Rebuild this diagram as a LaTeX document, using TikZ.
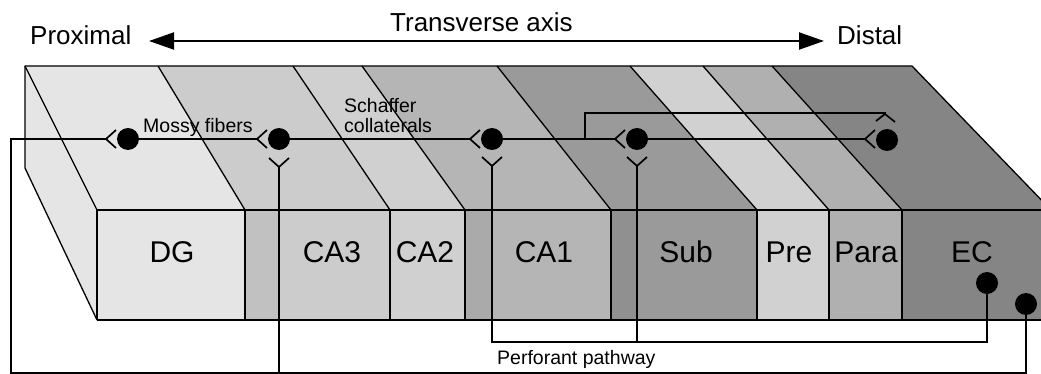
\documentclass[tikz,border=0pt]{standalone}
\usepackage{fontspec}
\setmainfont{Liberation Sans}
\usetikzlibrary{arrows.meta}
% band shades (top face / front face)
\definecolor{shDG}{gray}{0.90}
\definecolor{shCAiii}{gray}{0.80}
\definecolor{shCAiiiS}{gray}{0.755}
\definecolor{shCAii}{gray}{0.815}
\definecolor{shCAi}{gray}{0.71}
\definecolor{shCAiS}{gray}{0.665}
\definecolor{shSub}{gray}{0.605}
\definecolor{shSubS}{gray}{0.565}
\definecolor{shPre}{gray}{0.82}
\definecolor{shPara}{gray}{0.69}
\definecolor{shEC}{gray}{0.52}
\begin{document}
\begin{tikzpicture}[x=1pt,y=-1pt,
  slab/.style={line width=1.3pt, line join=round},
  wire/.style={line width=2pt, line join=miter},
  arm/.style={line width=1.7pt},
  soma/.style={circle, fill=black, inner sep=0pt, minimum size=22pt},
  region/.style={font=\fontsize{30}{30}\selectfont, anchor=base, inner sep=0pt},
  small/.style={font=\fontsize{19.5}{20}\selectfont, anchor=base west, inner sep=0pt},
  axislbl/.style={font=\fontsize{26}{26}\selectfont, anchor=base west, inner sep=0pt}]
\useasboundingbox (0,0) rectangle (1041,374);
\clip (0,0) rectangle (1041,374);

% ---- top face: skewed bands ----
\foreach \ta/\tb/\fa/\fb/\col in {25/158/97/245/shDG, 158/293/245/390/shCAiii,
    293/362/390/465/shCAii, 362/497/465/611/shCAi, 497/630/611/757/shSub,
    630/703/757/829/shPre, 703/772/829/902/shPara, 772/912/902/1051/shEC}
  \fill[\col] (\ta,66) -- (\tb,66) -- (\fb,210) -- (\fa,210) -- cycle;

% ---- left side face ----
\fill[shDG] (25,66) -- (97,210) -- (97,320) -- (25,168) -- cycle;

% ---- front face ----
\fill[shDG]     (97,210)  rectangle (245,320);
\fill[shCAiiiS] (245,210) rectangle (279,320);
\fill[shCAiii]  (279,210) rectangle (390,320);
\fill[shCAii]   (390,210) rectangle (465,320);
\fill[shCAiS]   (465,210) rectangle (492,320);
\fill[shCAi]    (492,210) rectangle (611,320);
\fill[shSubS]   (611,210) rectangle (637,320);
\fill[shSub]    (637,210) rectangle (757,320);
\fill[shPre]    (757,210) rectangle (829,320);
\fill[shPara]   (829,210) rectangle (902,320);
\fill[shEC]     (902,210) rectangle (1051,320);

% ---- outlines ----
\draw[slab] (25,168) -- (25,66) -- (912,66) -- (1051,210);
\draw[slab] (25,168) -- (97,320);
\foreach \ta/\fa in {25/97, 158/245, 293/390, 362/465, 497/611, 630/757, 703/829, 772/902}
  \draw[slab] (\ta,66) -- (\fa,210);
\draw[slab] (97,210) -- (1051,210);
\draw[slab] (97,320) -- (1051,320);
\foreach \xa in {97, 245, 390, 465, 611, 757, 829, 902}
  \draw[slab] (\xa,210) -- (\xa,320);

% ---- region labels ----
\node[region] (lDG)   at (172,262) {DG};
\node[region] (lCA3)  at (332,262) {CA3};
\node[region] (lCA2)  at (425,262) {CA2};
\node[region] (lCA1)  at (544,262) {CA1};
\node[region] (lSub)  at (686,262) {Sub};
\node[region] (lPre)  at (789,262) {Pre};
\node[region] (lPara) at (866,262) {Para};
\node[region] (lEC)   at (972,262) {EC};

% ---- transverse axis ----
\node[axislbl] (prox)  at (30,45)  {Proximal};
\node[axislbl] (trans) at (390,32) {Transverse axis};
\node[axislbl] (dist)  at (837,45) {Distal};
\coordinate (axL) at (149,41);
\coordinate (axR) at (824,41);
\draw[line width=2pt, {Triangle[length=25pt,width=17pt]}-{Triangle[length=25pt,width=17pt]}] (axL) -- (axR);

% ---- cell bodies ----
\coordinate (dDGc)  at (128,139);
\coordinate (dCA3c) at (279,139);
\coordinate (dCA1c) at (492,139);
\coordinate (dSubc) at (637,139);
\coordinate (dECtc) at (887,140);
\coordinate (dECac) at (987,283);
\coordinate (dECbc) at (1026,304);

% terminals: horizontal forks, vertical forks, cap fork
\coordinate (fDG)  at (106,139);
\coordinate (fCA3) at (257,139);
\coordinate (fCA1) at (470,139);
\coordinate (fSub) at (615,139);
\coordinate (fEC)  at (865,139);
\coordinate (vCA3) at (279,167);
\coordinate (vCA1) at (492,166);
\coordinate (vSub) at (637,166);
\coordinate (hEC)  at (885,114);

% routing corners
\coordinate (cBL) at (11,373);
\coordinate (cTL) at (11,139);
\coordinate (cPP) at (987,342);
\coordinate (jB)  at (585,139);
\coordinate (jT)  at (585,113);

% ---- fibre pathways ----
% perforant path from EC to DG and CA3
\draw[wire] (dECbc) -- (dECbc |- cBL) -- (cBL) -- (cTL) -- (fDG);
\draw[wire] (vCA3) -- (vCA3 |- cBL);
% perforant path from EC to CA1 and subiculum
\draw[wire] (dECac) -- (cPP) -- (vCA1 |- cPP) -- (vCA1);
\draw[wire] (vSub) -- (vSub |- cPP);
% mossy fibers, Schaffer collaterals, CA1/Sub outputs
\draw[wire] (dDGc) -- (fCA3);
\draw[wire] (dCA3c) -- (fCA1);
\draw[wire] (dCA1c) -- (fSub);
\draw[wire] (dSubc) -- (fEC);
\draw[wire] (jB) -- (jT) -- (jT -| hEC) -- (hEC);

% fork terminals
\foreach \f in {fDG, fCA3, fCA1, fSub, fEC}
  \draw[arm] (\f) -- ++(10,-9) (\f) -- ++(10,9);
\foreach \v in {vCA3, vCA1, vSub}
  \draw[arm] (\v) -- ++(-10,-9) (\v) -- ++(10,-9);
\draw[arm] (hEC) -- ++(-9,7) (hEC) -- ++(10,8);

% somata
\node[soma] (dDG)  at (dDGc)  {};
\node[soma] (dCA3) at (dCA3c) {};
\node[soma] (dCA1) at (dCA1c) {};
\node[soma] (dSub) at (dSubc) {};
\node[soma] (dECt) at (dECtc) {};
\node[soma] (dECa) at (dECac) {};
\node[soma] (dECb) at (dECbc) {};

% ---- pathway labels ----
\node[small] (mossy) at (143,133) {Mossy fibers};
\node[small] (schA)  at (344,113) {Schaffer};
\node[small] (schB)  at (344,133) {collaterals};
\node[small] (perf)  at (497,364) {Perforant pathway};
\end{tikzpicture}
\end{document}
